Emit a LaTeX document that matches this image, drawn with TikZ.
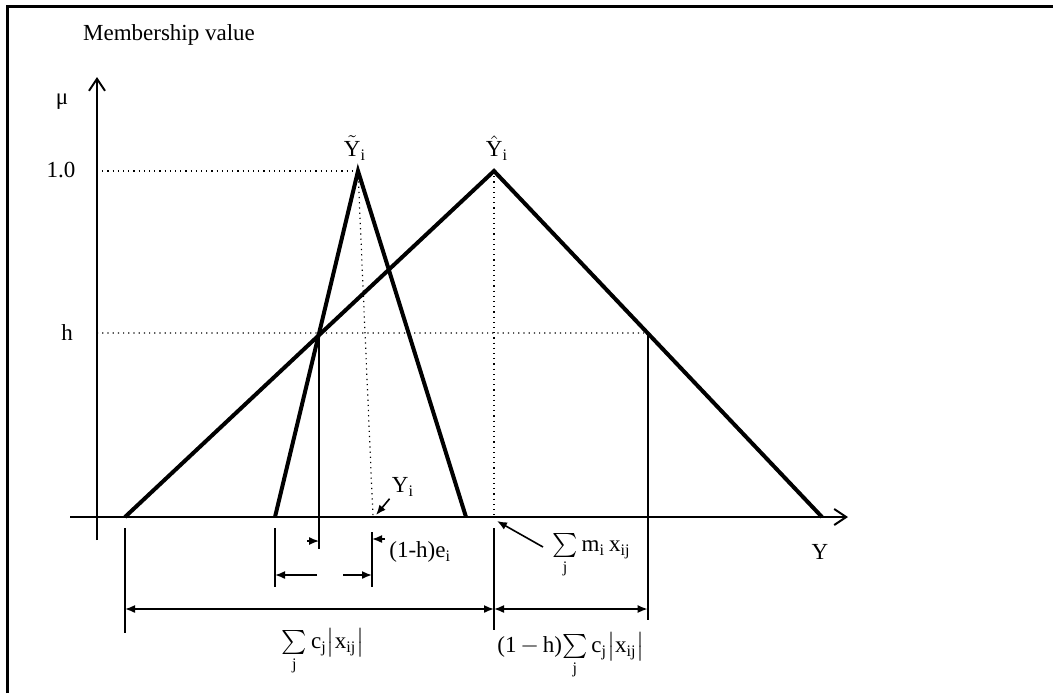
\documentclass[tikz,border=0pt]{standalone}
\usepackage{amsmath}
\usepackage{fontspec}
\setmainfont{Liberation Serif}
\usetikzlibrary{arrows.meta, calc}

\begin{document}
\begin{tikzpicture}[
    x=0.5pt, y=-0.5pt,
    every node/.style={font=\fontsize{11.5}{13}\selectfont, inner sep=1pt},
    axis/.style={line width=1pt, -{Straight Barb[length=6pt, width=8pt]}},
    tri/.style={line width=2pt, line join=miter},
    guide/.style={dotted, line width=0.6pt},
    bar/.style={line width=1.1pt},
    dim/.style={line width=0.8pt, {Latex[length=5pt, width=4pt]}-{Latex[length=5pt, width=4pt]}},
    ptr/.style={line width=0.8pt, -{Latex[length=5pt, width=4pt]}}
]
    \useasboundingbox (0,0) rectangle (1053,693);

    % frame
    \draw[line width=1.5pt] (7,693) -- (7,6) -- (1053,6);

    % axes
    \coordinate (ybot) at (97,540);
    \coordinate (ytop) at (97,77);
    \coordinate (xl) at (70,517);
    \coordinate (xr) at (848,517);
    \draw[axis] (ybot) -- (ytop);
    \draw[axis] (xl) -- (xr);

    \node (mv) at (169,35) {Membership value};
    \node (mu) at (62,102) {μ};
    \node (one) at (61,170) {1.0};
    \node (hlab) at (67,333) {h};
    \node (ylab) at (820,552) {Y};

    % triangles
    \coordinate (tl) at (275,517);
    \coordinate (tp) at (358,171);
    \coordinate (tr) at (466,517);
    \coordinate (hl) at (125,517);
    \coordinate (hp) at (494,171);
    \coordinate (hr) at (822,517);
    \draw[tri] (tl) -- (tp) -- (tr);
    \draw[tri] (hl) -- (hp) -- (hr);

    \node (ytilde) at (355,148) {$\tilde{\mathrm{Y}}_{\mathrm{i}}$};
    \node (yhat) at (497,148) {$\hat{\mathrm{Y}}_{\mathrm{i}}$};

    % h level
    \coordinate (ha) at (intersection of tl--tp and 97,333--900,333);
    \coordinate (hb) at (intersection of hp--hr and 97,333--900,333);
    \coordinate (yi) at (373,517);
    \coordinate (mx) at (494,517);

    % dotted guides
    \draw[guide] (97,171) -- (tp);
    \draw[guide] (97,333) -- (hb);
    \draw[guide] (tp) -- (yi);
    \draw[guide] (hp) -- (mx);

    % vertical bars
    \draw[bar] (ha) -- (ha |- 0,549);
    \draw[bar] (hb) -- (hb |- 0,620);
    \draw[bar] (125,528) -- (125,633);
    \draw[bar] (275,528) -- (275,587);
    \draw[bar] (372,532) -- (372,587);
    \draw[bar] (494,528) -- (494,630);

    % dimension arrows
    \draw[dim] (125,609) -- (494,609);
    \draw[dim] (494,609) -- (hb |- 0,609);
    \draw[ptr] (317,575) -- (275,575);
    \draw[ptr] (343,575) -- (372,575);
    \draw[ptr] (307,541) -- (ha |- 0,541);
    \draw[ptr] (385,539) -- (372,539);

    \node[anchor=west] (ehl) at (387,552) {(1-h)e$_{\mathrm{i}}$};
    \node (sumc) at (323,652) {$\sum\limits_{\mathrm{j}}\mathrm{c}_{\mathrm{j}}\bigl|\mathrm{x}_{\mathrm{ij}}\bigr|$};
    \node (sumch) at (571,656) {(1\,$-$\,h)$\sum\limits_{\mathrm{j}}\mathrm{c}_{\mathrm{j}}\bigl|\mathrm{x}_{\mathrm{ij}}\bigr|$};

    % pointers
    \node (yilab) at (403,487) {Y$_{\mathrm{i}}$};
    \draw[ptr] (yilab.south west) -- ($(yi)+(3,-2)$);
    \node[anchor=west] (summ) at (550,556) {$\sum\limits_{\mathrm{j}}\mathrm{m}_{\mathrm{i}}\,\mathrm{x}_{\mathrm{ij}}$};
    \draw[ptr] (543,547) -- ($(mx)+(3,4)$);

\end{tikzpicture}
\end{document}
